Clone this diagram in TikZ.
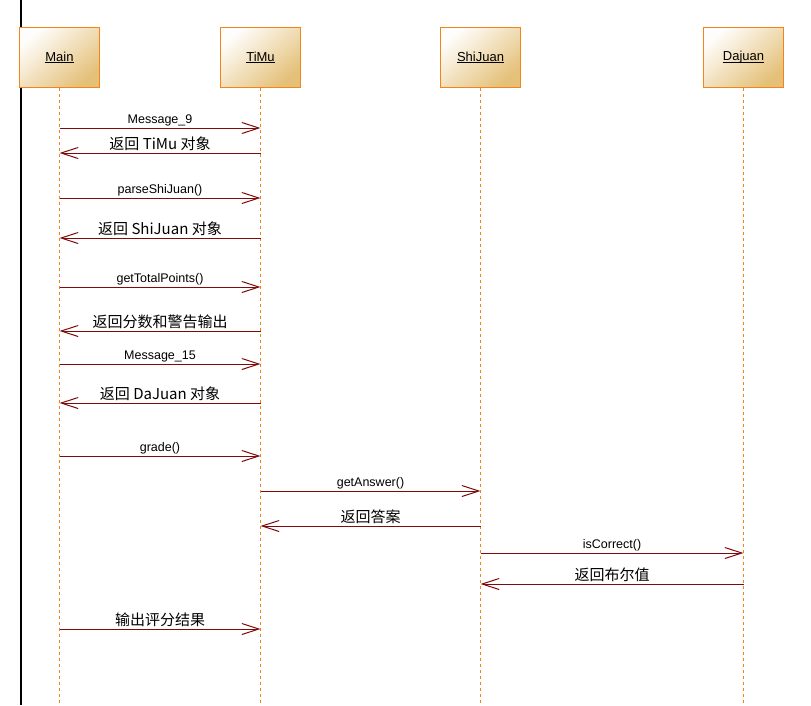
\documentclass[tikz,border=0pt]{standalone}
\usepackage{fontspec}
\setmainfont{Liberation Sans}
\newfontfamily\cjk{Noto Sans CJK SC}
\usetikzlibrary{arrows.meta,positioning}

\definecolor{boxline}{RGB}{244,132,24}
\definecolor{boxtan}{RGB}{228,192,120}
\definecolor{msgred}{RGB}{128,10,10}

\tikzset{
  objbox/.style={draw=boxline, line width=1.2pt, top color=boxtan!3, middle color=boxtan!55,
    bottom color=boxtan, shading angle=40, minimum width=80pt, minimum height=60pt,
    inner sep=0pt, font=\fontsize{13}{15}\selectfont},
  lifeline/.style={draw=boxline, line width=1pt, dash pattern=on 3pt off 3pt},
  msg/.style={draw=msgred, line width=1pt,
    -{Straight Barb[length=17pt,width=11pt,line width=1pt]}},
  msglabel/.style={midway, above, inner sep=1.5pt, text=black}
}

\begin{document}
\begin{tikzpicture}[x=1pt,y=-1pt]
            % Canvas
            \fill[white] (0,0) rectangle (811,705);
            \useasboundingbox (0,0) rectangle (811,705);
            \draw[line width=1.3pt] (21,0) -- (21,705);

            % Objects
            \node[objbox] (main) at (59.5,57.5) {\underline{Main}};
            \node[objbox] (timu) at (260.5,57.5) {\underline{TiMu}};
            \node[objbox] (shijuan) at (480.5,57.5) {\underline{ShiJuan}};
            \node[objbox] (dajuan) at (743.5,57.5) {\underline{Da\smash{j}uan}};

            % Lifelines
            \foreach \o in {main, timu, shijuan, dajuan}
                {
                    \coordinate (\o end) at (\o |- 0,705);
                    \draw[lifeline] (\o.south) -- (\o end);
                }

            % Calls
            \foreach \a/\b/\y/\txt in {main/timu/128/{Message\_9},
                                       main/timu/198/{parseShiJuan()},
                                       main/timu/287/{getTotalPoints()},
                                       main/timu/364/{Message\_15},
                                       main/timu/456/{grade()},
                                       timu/shijuan/491/{getAnswer()},
                                       shijuan/dajuan/553/{isCorrect()}}
                {
                    \draw[msg] (\a |- 0,\y) -- (\b |- 0,\y)
                        node[msglabel, font=\fontsize{12.5}{14}\selectfont] {\txt};
                }

            % Returns
            \foreach \a/\b/\y/\txt in {timu/main/153/{返回 TiMu 对象},
                                       timu/main/238/{返回 ShiJuan 对象},
                                       timu/main/331/{返回分数和警告输出},
                                       timu/main/403/{返回 DaJuan 对象},
                                       shijuan/timu/526/{返回答案},
                                       dajuan/shijuan/584/{返回布尔值},
                                       main/timu/629/{输出评分结果}}
                {
                    \draw[msg] (\a |- 0,\y) -- (\b |- 0,\y)
                        node[msglabel, font=\cjk\fontsize{15}{17}\selectfont] {\txt};
                }

        \end{tikzpicture}
\end{document}
